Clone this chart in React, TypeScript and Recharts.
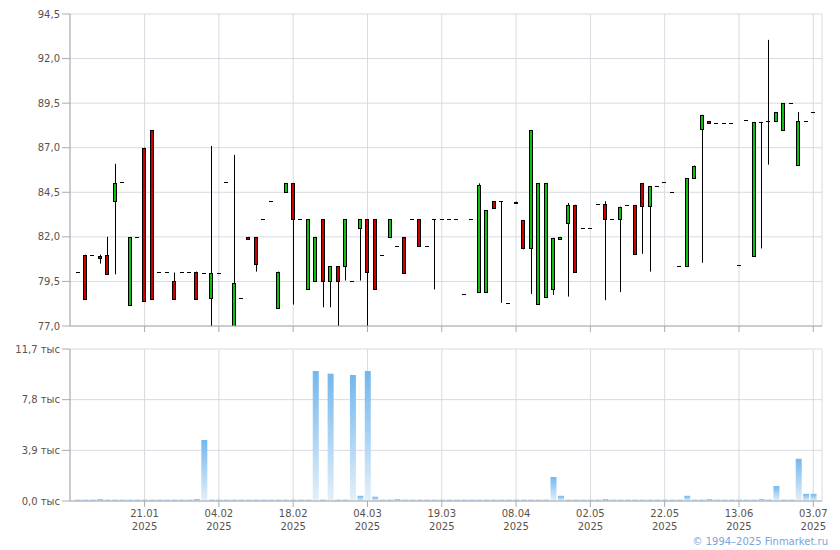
import React from 'react';
import { ComposedChart, BarChart, Bar, XAxis, YAxis, CartesianGrid } from 'recharts';

document.body.style.margin = '0';

// trading days, 2025
const dates = [
  '08.01', '09.01', '10.01', '13.01', '14.01', '15.01', '16.01', '17.01', '20.01', '21.01',
  '22.01', '23.01', '24.01', '27.01', '28.01', '29.01', '30.01', '31.01', '03.02', '04.02',
  '05.02', '06.02', '07.02', '10.02', '11.02', '12.02', '13.02', '14.02', '17.02', '18.02',
  '19.02', '20.02', '21.02', '24.02', '25.02', '26.02', '27.02', '28.02', '03.03', '04.03',
  '05.03', '06.03', '07.03', '10.03', '11.03', '12.03', '13.03', '14.03', '17.03', '19.03',
  '20.03', '21.03', '24.03', '25.03', '27.03', '31.03', '02.04', '03.04', '07.04', '08.04',
  '10.04', '14.04', '16.04', '17.04', '18.04', '22.04', '24.04', '28.04', '30.04', '02.05',
  '05.05', '06.05', '07.05', '12.05', '13.05', '14.05', '15.05', '16.05', '20.05', '22.05',
  '23.05', '26.05', '27.05', '28.05', '29.05', '30.05', '03.06', '05.06', '10.06', '13.06',
  '17.06', '18.06', '19.06', '20.06', '23.06', '24.06', '26.06', '30.06', '01.07', '03.07',
];

const opens = [
  80.05, 81.0, 81.0, 80.95, 81.0, 84.0, 85.05, 78.15, 82.0, 87.0,
  88.0, 80.05, 80.05, 79.55, 80.05, 80.05, 80.05, 80.0, 78.55, 80.0,
  85.05, 77.0, 78.55, 82.0, 82.0, 83.0, 84.0, 78.0, 84.5, 85.0,
  83.0, 79.05, 79.55, 83.0, 79.55, 80.35, 80.35, 79.55, 82.5, 83.0,
  83.0, 81.0, 82.0, 81.5, 82.0, 83.0, 83.0, 81.5, 83.0, 83.0,
  83.0, 83.0, 78.8, 83.0, 78.9, 78.9, 84.0, 84.0, 78.3, 83.98,
  82.95, 81.4, 78.25, 78.6, 79.1, 81.9, 82.8, 83.8, 82.5, 82.5,
  83.85, 83.85, 83.0, 83.0, 83.8, 83.8, 85.0, 83.75, 84.85, 85.05,
  84.5, 80.35, 80.35, 85.3, 88.05, 88.5, 88.4, 88.4, 88.4, 80.4,
  88.55, 80.9, 88.45, 88.5, 88.5, 88.0, 89.5, 86.05, 88.5, 89.0,
];
const highs = [
  80.05, 81.0, 81.0, 81.0, 82.0, 86.1, 85.05, 82.0, 82.0, 87.0,
  88.0, 80.05, 80.05, 80.0, 80.05, 80.05, 80.05, 80.0, 87.1, 80.0,
  85.05, 86.6, 78.55, 82.0, 82.0, 83.0, 84.0, 80.05, 85.0, 85.0,
  83.0, 83.0, 82.0, 83.0, 80.35, 80.35, 83.0, 79.55, 83.0, 83.0,
  83.0, 81.0, 83.0, 81.5, 82.0, 83.0, 83.0, 81.5, 83.0, 83.0,
  83.0, 83.0, 78.8, 83.0, 85.0, 83.5, 84.0, 84.0, 78.3, 83.98,
  82.95, 88.0, 85.0, 85.0, 81.95, 82.0, 83.9, 83.8, 82.5, 82.5,
  83.85, 84.0, 83.0, 83.7, 83.8, 83.8, 85.0, 84.85, 84.85, 85.05,
  84.5, 80.35, 85.3, 86.0, 88.85, 88.5, 88.4, 88.4, 88.4, 80.4,
  88.55, 88.45, 88.45, 93.05, 89.0, 89.5, 89.5, 89.0, 88.5, 89.0,
];
const lows = [
  80.05, 78.5, 81.0, 80.5, 79.9, 79.9, 85.05, 78.15, 82.0, 78.4,
  78.5, 80.05, 80.05, 78.5, 80.05, 80.05, 78.5, 80.0, 77.0, 80.0,
  85.05, 77.0, 78.55, 81.88, 80.05, 83.0, 84.0, 78.0, 84.5, 78.2,
  83.0, 79.05, 79.55, 78.05, 78.05, 77.0, 79.55, 79.55, 79.55, 77.0,
  79.05, 81.0, 82.0, 81.5, 79.95, 83.0, 81.5, 81.5, 79.05, 83.0,
  83.0, 83.0, 78.8, 83.0, 78.9, 78.9, 83.6, 78.3, 78.3, 83.88,
  81.3, 78.8, 78.25, 78.6, 78.75, 81.9, 78.65, 80.05, 82.5, 82.5,
  83.85, 78.45, 83.0, 78.9, 83.8, 81.05, 81.05, 80.05, 84.85, 85.05,
  84.5, 80.35, 80.35, 85.3, 80.55, 88.4, 88.4, 88.4, 88.4, 80.4,
  88.55, 80.9, 81.35, 86.05, 88.5, 88.0, 89.5, 86.05, 88.5, 89.0,
];
const closes = [
  80.05, 78.5, 81.0, 80.8, 79.9, 85.0, 85.05, 82.0, 82.0, 78.4,
  78.5, 80.05, 80.05, 78.5, 80.05, 80.05, 78.5, 80.0, 80.0, 80.0,
  85.05, 79.4, 78.55, 81.88, 80.5, 83.0, 84.0, 80.05, 85.0, 83.0,
  83.0, 83.0, 82.0, 79.55, 80.35, 79.55, 83.0, 79.55, 83.0, 80.05,
  79.05, 81.0, 83.0, 81.5, 79.95, 83.0, 81.5, 81.5, 83.0, 83.0,
  83.0, 83.0, 78.8, 83.0, 84.9, 83.5, 83.6, 84.0, 78.3, 83.88,
  81.4, 88.0, 85.0, 85.0, 81.95, 82.0, 83.8, 80.05, 82.5, 82.5,
  83.85, 83.0, 83.0, 83.7, 83.8, 81.05, 83.75, 84.85, 84.85, 85.05,
  84.5, 80.35, 85.3, 86.0, 88.85, 88.4, 88.4, 88.4, 88.4, 80.4,
  88.55, 88.45, 88.45, 88.5, 89.0, 89.5, 89.5, 88.5, 88.5, 89.0,
];

// volume, thousands
const volumes = [
  0.1, 0.1, 0.1, 0.15, 0.1, 0.1, 0.1, 0.1, 0.1, 0.1,
  0.1, 0.1, 0.1, 0.1, 0.1, 0.1, 0.15, 4.7, 0.1, 0.1,
  0.1, 0.1, 0.1, 0.1, 0.1, 0.1, 0.1, 0.1, 0.1, 0.1,
  0.1, 0.1, 10.0, 0.1, 9.8, 0.1, 0.1, 9.7, 0.4, 10.0,
  0.33, 0.1, 0.1, 0.15, 0.1, 0.1, 0.1, 0.1, 0.1, 0.1,
  0.1, 0.1, 0.1, 0.1, 0.1, 0.1, 0.1, 0.1, 0.1, 0.1,
  0.1, 0.1, 0.1, 0.1, 1.85, 0.4, 0.1, 0.1, 0.1, 0.1,
  0.1, 0.15, 0.1, 0.1, 0.1, 0.1, 0.1, 0.1, 0.1, 0.1,
  0.1, 0.1, 0.4, 0.1, 0.1, 0.15, 0.1, 0.1, 0.1, 0.1,
  0.1, 0.1, 0.15, 0.1, 1.15, 0.1, 0.1, 3.25, 0.55, 0.55,
];

const tickDates = ['21.01', '04.02', '18.02', '04.03', '19.03', '08.04', '02.05', '22.05', '13.06', '03.07'];
const tickYear = '2025';
const priceTicks = [77.0, 79.5, 82.0, 84.5, 87.0, 89.5, 92.0, 94.5];
const volumeTicks = [0, 3.9, 7.8, 11.7];

const data = dates.map((date, i) => ({
  date,
  open: opens[i],
  high: highs[i],
  low: lows[i],
  close: closes[i],
  volume: volumes[i],
}));

const FONT = '"DejaVu Sans", Verdana, sans-serif';
const LABEL = '#5b524d';
const AXIS = '#a6acb3';
const GRID = '#d6dbe0';
const UP = '#10c010';
const DOWN = '#cc0000';

const comma = (v: number) => v.toFixed(1).replace('.', ',');

const Candle = (props: any) => {
  const { x, y, width, height, payload } = props;
  const { open, high, low, close } = payload;
  const cx = Math.round(x + width / 2);
  const top = Math.min(y, y + height);
  const h = Math.abs(height);
  const range = high - low;
  const toY = (v: number) => (range > 0 ? top + ((high - v) / range) * h : top);

  const yo = toY(open);
  const yc = toY(close);
  const parts: React.ReactNode[] = [];

  if (range > 0) {
    parts.push(
      <line key="w" x1={cx + 0.5} x2={cx + 0.5} y1={top} y2={top + h} stroke="#000" strokeWidth={1} />
    );
  }
  if (Math.abs(yo - yc) < 0.5) {
    const yy = Math.round(yo) + 0.5;
    parts.push(<line key="d" x1={cx - 2} x2={cx + 2} y1={yy} y2={yy} stroke="#000" strokeWidth={1} />);
  } else {
    const t = Math.round(Math.min(yo, yc));
    const b = Math.round(Math.max(yo, yc));
    parts.push(
      <rect
        key="b"
        x={cx - 1.5}
        y={t + 0.5}
        width={3}
        height={Math.max(1, b - t)}
        fill={close >= open ? UP : DOWN}
        stroke="#000"
        strokeWidth={1}
      />
    );
  }
  return <g>{parts}</g>;
};

const DateTick = (props: any) => {
  const { x, y, payload } = props;
  return (
    <text x={x} y={y} textAnchor="middle" fill={LABEL} fontSize={10} fontFamily={FONT}>
      <tspan x={x} dy={8}>{payload.value}</tspan>
      <tspan x={x} dy={13}>{tickYear}</tspan>
    </text>
  );
};

const axisTick = { fill: LABEL, fontSize: 10, fontFamily: FONT };

export default function App() {
  return (
    <div style={{ position: 'relative', width: 840, height: 550, background: '#fff' }}>
      <ComposedChart width={840} height={340} data={data} margin={{ top: 14, right: 18, left: 0, bottom: 0 }}>
        <CartesianGrid stroke={GRID} />
        <XAxis
          dataKey="date"
          ticks={tickDates}
          interval={0}
          padding={{ left: 4, right: 5 }}
          height={14}
          tickSize={6}
          stroke={AXIS}
          tick={() => <g />}
        />
        <YAxis
          type="number"
          domain={[77, 94.5]}
          ticks={priceTicks}
          allowDataOverflow
          width={70}
          tickSize={8}
          tickMargin={2}
          stroke={AXIS}
          tick={axisTick}
          tickFormatter={comma}
        />
        <Bar
          dataKey={(d: any) => [d.low, d.high]}
          shape={Candle}
          barSize={7}
          isAnimationActive={false}
        />
      </ComposedChart>
      <BarChart width={840} height={210} data={data} margin={{ top: 9, right: 18, left: 0, bottom: 0 }}>
        <defs>
          <linearGradient id="volGrad" x1="0" y1="0" x2="0" y2="1">
            <stop offset="0%" stopColor="#72b7ee" />
            <stop offset="100%" stopColor="#e4effa" />
          </linearGradient>
        </defs>
        <CartesianGrid stroke={GRID} />
        <XAxis
          dataKey="date"
          ticks={tickDates}
          interval={0}
          padding={{ left: 4, right: 5 }}
          height={49}
          tickSize={6}
          stroke={AXIS}
          tick={<DateTick />}
        />
        <YAxis
          type="number"
          domain={[0, 11.7]}
          ticks={volumeTicks}
          width={70}
          tickSize={8}
          tickMargin={2}
          stroke={AXIS}
          tick={axisTick}
          tickFormatter={(v: number) => `${comma(v)} тыс`}
        />
        <Bar dataKey="volume" fill="url(#volGrad)" barSize={6} isAnimationActive={false} />
      </BarChart>
      <div
        style={{
          position: 'absolute',
          right: 12,
          top: 536,
          fontFamily: FONT,
          fontSize: 10,
          lineHeight: '12px',
          color: '#7aa3de',
        }}
      >
        © 1994–2025 Finmarket.ru
      </div>
    </div>
  );
}
